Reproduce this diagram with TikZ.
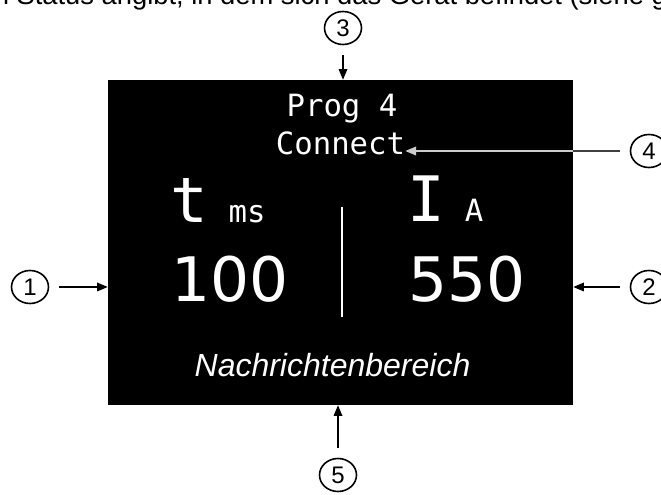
\documentclass[tikz,border=0pt]{standalone}
\usepackage{fontspec}
\setmainfont{Liberation Sans}
\newfontfamily\lcdfont{DejaVu Sans Mono}
\newfontfamily\digfont{DejaVu Sans}
\usetikzlibrary{arrows.meta,shapes.geometric}

\begin{document}
\begin{tikzpicture}[x=0.75pt, y=-0.75pt, >={Triangle[length=8pt, width=6.5pt]},
  every node/.style={inner sep=0pt},
  num/.style={draw, ellipse, line width=1.2pt, minimum width=27.75pt, minimum height=24.75pt, outer sep=8pt, font=\fontsize{18}{18}\selectfont},
  lcd/.style={white, anchor=base, font=\lcdfont\fontsize{23}{23}\selectfont},
  big/.style={white, anchor=base, font=\lcdfont\fontsize{47}{47}\selectfont},
  val/.style={white, anchor=base, font=\digfont\fontsize{46}{46}\selectfont},
  ptr/.style={->, line width=0.9pt}]
  \useasboundingbox (0,0) rectangle (661,495);
  \begin{scope}
    \clip (0,0) rectangle (661,495);
    \node[anchor=base west, font=\fontsize{20.5}{20.5}\selectfont] (cut) at (-14,5) {m Status angibt, in dem sich das Gerät befindet (siehe g};
  \end{scope}
  \node[fill=black, minimum width=348.75pt, minimum height=243.75pt] (scr) at (340.5,242.5) {};
  \node[lcd] (prog) at (342,117) {Prog 4};
  \node[lcd] (cn) at (340.5,155) {Connect};
  \node[big] (t) at (189,223) {t};
  \node[lcd] (ms) at (247,223) {ms};
  \node[big] (cur) at (426,222) {I};
  \node[lcd] (amp) at (474,222) {A};
  \node[val] (tval) at (230,302) {100};
  \node[val] (ival) at (467.5,302) {550};
  \draw[white, line width=2pt] (342,207) -- (342,317);
  \node[white, anchor=base, font=\itshape\fontsize{24}{24}\selectfont] (msg) at (332.5,377) {Nachrichtenbereich};
  \node[num] (n1) at (30,287) {1};
  \node[num] (n2) at (649,287) {2};
  \node[num] (n3) at (343,28) {3};
  \node[num] (n4) at (649,151) {4};
  \node[num] (n5) at (338,475) {5};
  \draw[ptr] (n1) -- (n1 -| scr.west);
  \draw[ptr] (n2) -- (n2 -| scr.east);
  \draw[ptr] (n3) -- (n3 |- scr.north);
  \draw[ptr] (n5) -- (n5 |- scr.south);
  \draw[ptr, white!80!black] (n4) -- (n4 -| cn.east);
  \draw[line width=0.9pt, black!75] (n4) -- (n4 -| scr.east);
\end{tikzpicture}
\end{document}
